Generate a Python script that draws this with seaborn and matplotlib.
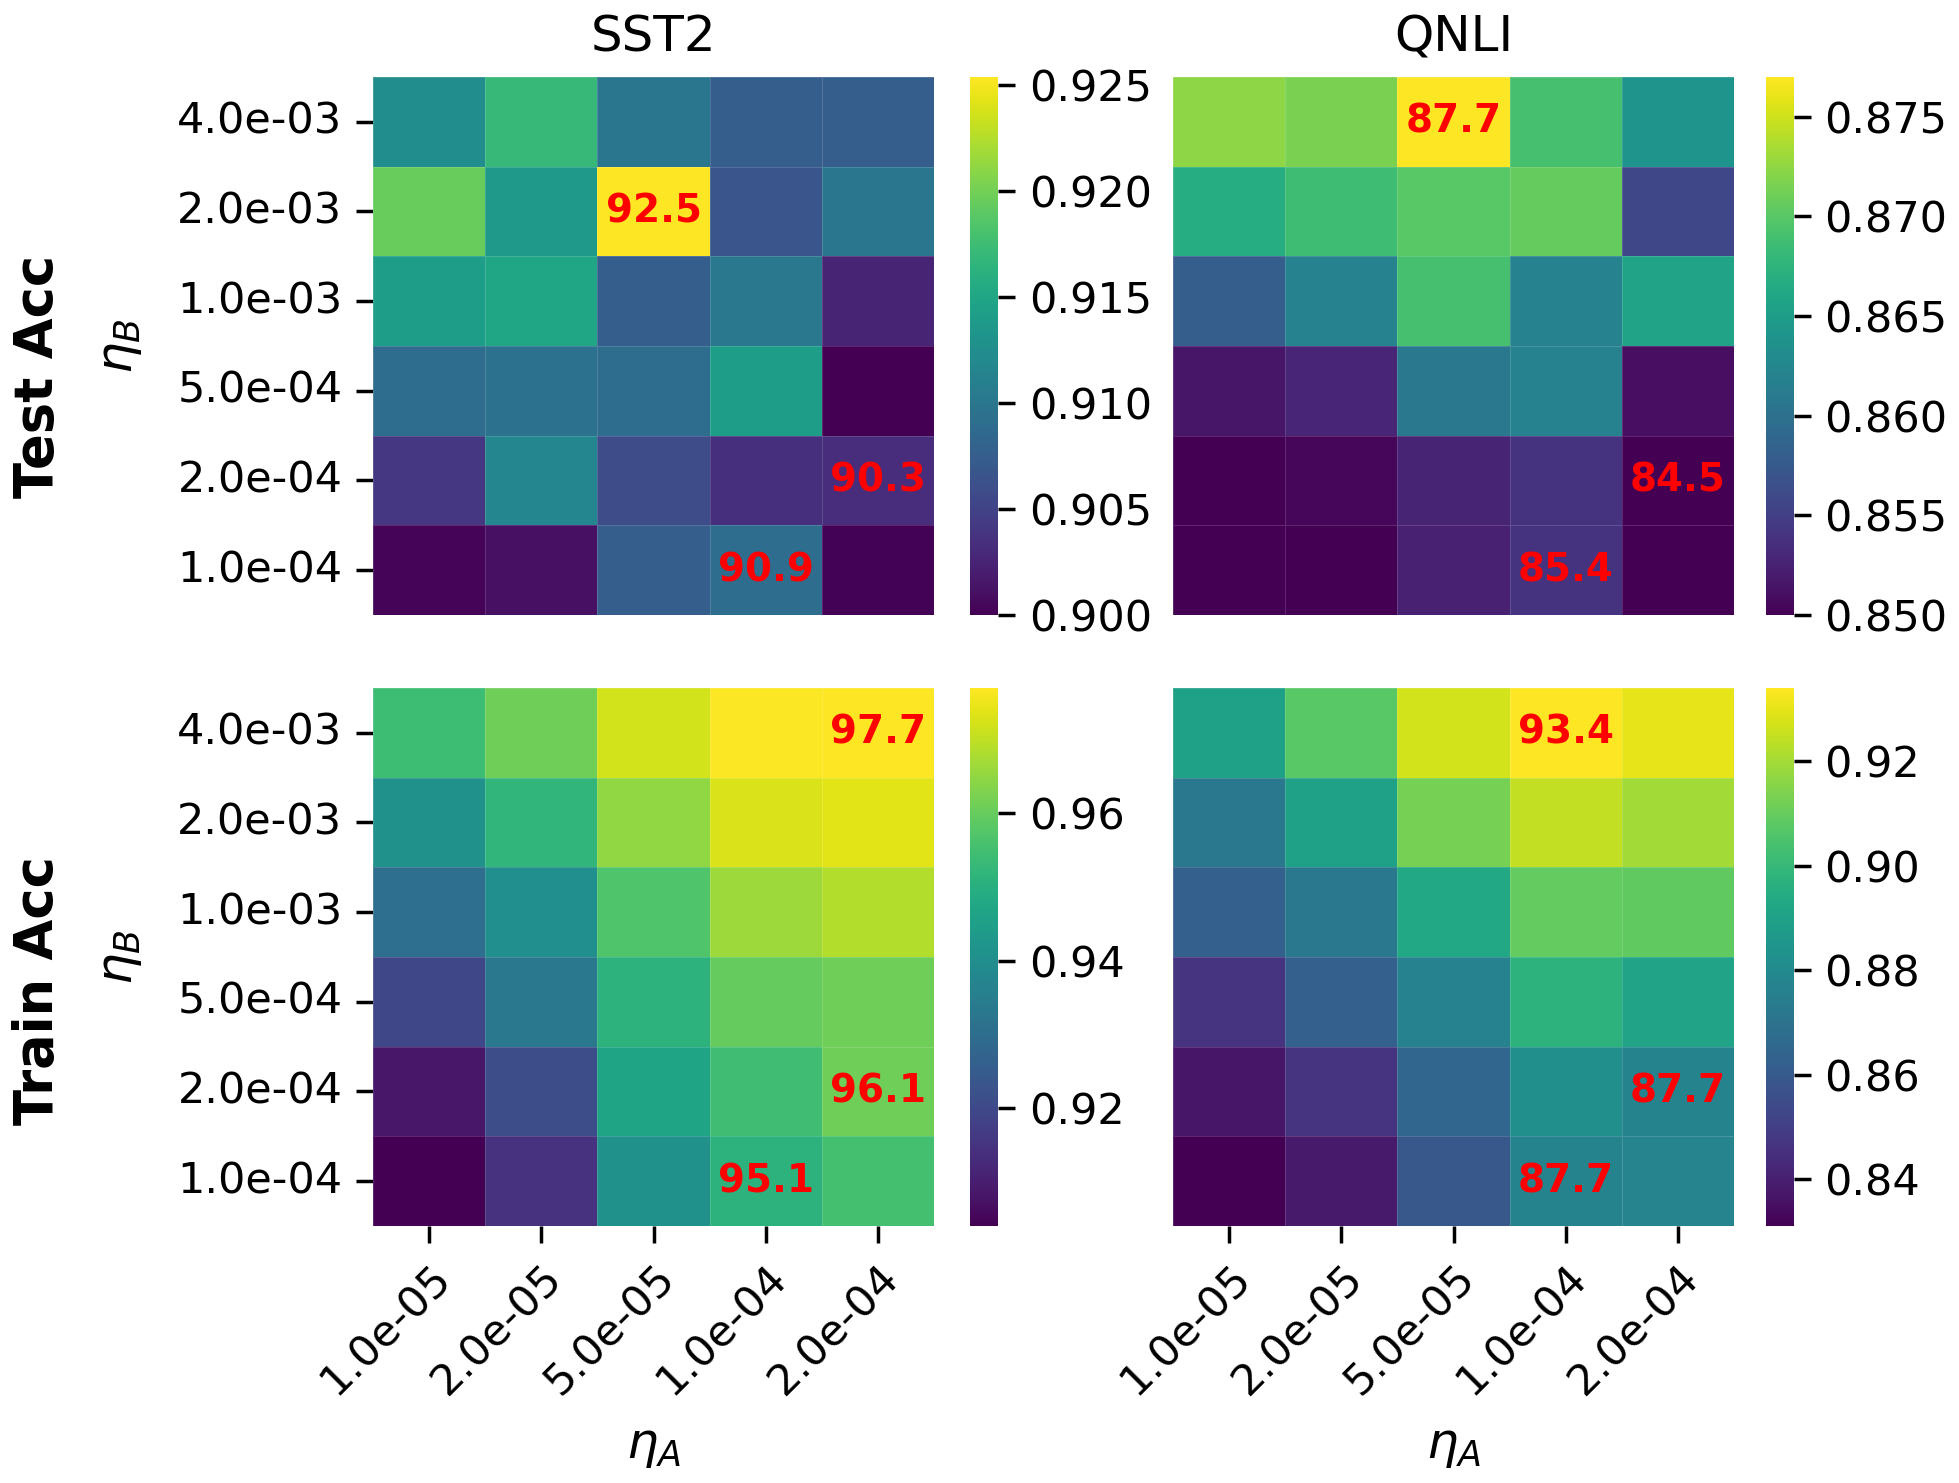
import numpy as np
import pandas as pd
import seaborn as sns
import matplotlib.pyplot as plt

# -----------------------------
# Data
# -----------------------------
lr_a = ["1.0e-05", "2.0e-05", "5.0e-05", "1.0e-04", "2.0e-04"]
lr_b = ["4.0e-03", "2.0e-03", "1.0e-03", "5.0e-04", "2.0e-04", "1.0e-04"]

datasets = ["SST2", "QNLI"]
metrics = ["Test Acc", "Train Acc"]

sst2_test = [
    [0.9125, 0.9170, 0.9100, 0.9075, 0.9075],
    [0.9195, 0.9137, 0.9254, 0.9067, 0.9100],
    [0.9140, 0.9150, 0.9075, 0.9102, 0.9025],
    [0.9090, 0.9095, 0.9090, 0.9140, 0.9000],
    [0.9040, 0.9117, 0.9058, 0.9035, 0.9032],
    [0.9002, 0.9010, 0.9075, 0.9090, 0.9001],
]
qnli_test = [
    [0.8724, 0.8716, 0.8770, 0.8690, 0.8640],
    [0.8667, 0.8686, 0.8700, 0.8706, 0.8557],
    [0.8580, 0.8620, 0.8690, 0.8620, 0.8657],
    [0.8515, 0.8528, 0.8608, 0.8620, 0.8510],
    [0.8495, 0.8505, 0.8527, 0.8540, 0.8450],
    [0.8490, 0.8495, 0.8525, 0.8540, 0.8490],
]
sst2_train = [
    [0.9540, 0.9610, 0.9720, 0.9766, 0.9770],
    [0.9405, 0.9517, 0.9650, 0.9730, 0.9737],
    [0.9300, 0.9400, 0.9570, 0.9663, 0.9685],
    [0.9194, 0.9333, 0.9510, 0.9597, 0.9610],
    [0.9085, 0.9210, 0.9465, 0.9546, 0.9610],
    [0.9040, 0.9143, 0.9405, 0.9510, 0.9553],
]
qnli_train = [
    [0.8897, 0.9072, 0.9268, 0.9340, 0.9300],
    [0.8722, 0.8897, 0.9124, 0.9247, 0.9196],
    [0.8620, 0.8722, 0.8928, 0.9093, 0.9090],
    [0.8465, 0.8620, 0.8763, 0.8970, 0.8907],
    [0.8370, 0.8465, 0.8650, 0.8825, 0.8770],
    [0.8310, 0.8380, 0.8590, 0.8770, 0.8775],
]

# colour limits per panel
color_limits = [
    [(0.900, 0.9254), (0.850, 0.877)],
    [(0.904, 0.977), (0.831, 0.934)],
]

# cells that get a red label (row, col)
marked_cells = [
    [[(1, 2), (4, 4), (5, 3)], [(0, 2), (4, 4), (5, 3)]],
    [[(0, 4), (4, 4), (5, 3)], [(0, 3), (4, 4), (5, 3)]],
]

grids = [[sst2_test, qnli_test], [sst2_train, qnli_train]]

# -----------------------------
# Style
# -----------------------------
sns.set_theme(style="ticks")
plt.rcParams["font.family"] = ["DejaVu Sans"]
for key in ["text.color", "axes.labelcolor", "xtick.color", "ytick.color"]:
    plt.rcParams[key] = "black"
plt.rcParams["xtick.major.pad"] = 5
plt.rcParams["ytick.major.pad"] = 5

TICK_FS = 15.5
LABEL_FS = 18

fig = plt.figure(figsize=(9.795, 7.415), dpi=200)

hm_x = [0.1904, 0.5988]
cb_x = [0.4952, 0.9015]
row_y = [0.5853, 0.1733]
hm_w, cb_w, row_h = 0.2864, 0.0143, 0.3628

for r in range(2):
    for c in range(2):
        df = pd.DataFrame(grids[r][c], index=lr_b, columns=lr_a)
        labels = np.full(df.shape, "", dtype=object)
        for i, j in marked_cells[r][c]:
            labels[i, j] = f"{df.iat[i, j] * 100:.1f}"

        ax = fig.add_axes([hm_x[c], row_y[r], hm_w, row_h])
        cax = fig.add_axes([cb_x[c], row_y[r], cb_w, row_h])
        vmin, vmax = color_limits[r][c]

        sns.heatmap(df, ax=ax, cbar_ax=cax, cmap="viridis",
                    vmin=vmin, vmax=vmax,
                    annot=labels, fmt="",
                    annot_kws={"color": "red", "fontsize": 14, "fontweight": "bold"},
                    linewidths=0.3, linecolor=(1, 1, 1, 0.15),
                    xticklabels=(r == 1), yticklabels=(c == 0))

        ax.tick_params(labelsize=TICK_FS)
        cax.tick_params(labelsize=TICK_FS)

        if c == 0:
            ax.set_ylabel(r"$\eta_B$", fontsize=LABEL_FS, labelpad=12)
            plt.setp(ax.get_yticklabels(), rotation=0)
        else:
            ax.set_ylabel("")

        if r == 1:
            ax.set_xlabel(r"$\eta_A$", fontsize=LABEL_FS, labelpad=7)
            plt.setp(ax.get_xticklabels(), rotation=45, ha="right",
                     rotation_mode="anchor")
        else:
            ax.set_xlabel("")
            ax.set_title(datasets[c], fontsize=LABEL_FS, pad=9)

# row labels
fig.text(0.0195, 0.7465, metrics[0], rotation=90, fontsize=19,
         fontweight="bold", ha="center", va="center")
fig.text(0.0195, 0.332, metrics[1], rotation=90, fontsize=19,
         fontweight="bold", ha="center", va="center")

fig.savefig("out.png", dpi=200)
